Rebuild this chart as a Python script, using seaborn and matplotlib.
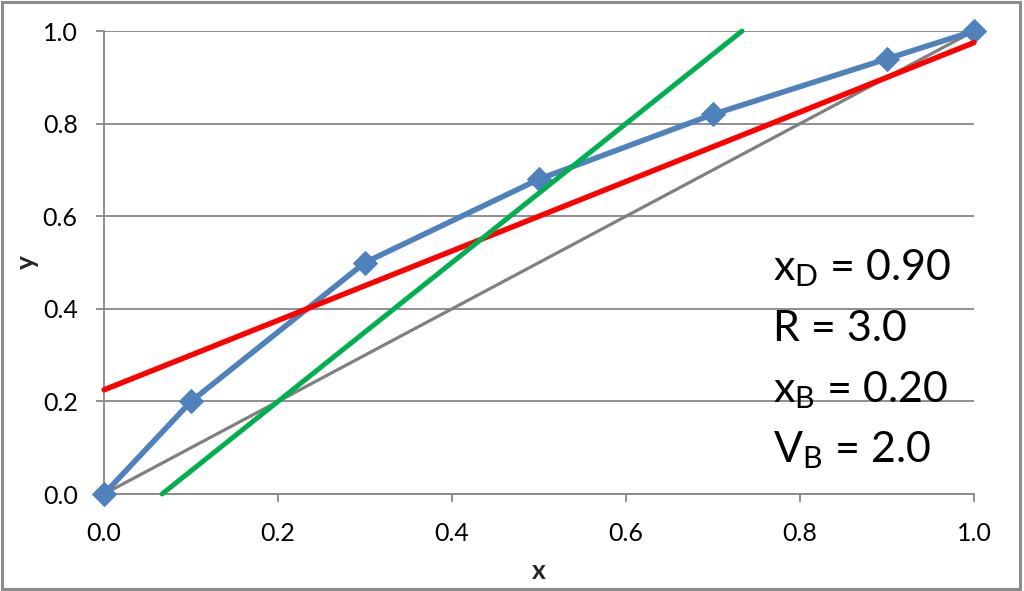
import matplotlib
matplotlib.use("Agg")
import matplotlib.pyplot as plt
import matplotlib.patches as patches
import seaborn as sns
import pandas as pd

# ---- data ----
eq_x = [0.0, 0.1, 0.3, 0.5, 0.7, 0.9, 1.0]
eq_y = [0.0, 0.2, 0.5, 0.68, 0.82, 0.94, 1.0]
diag_x = [0.0, 1.0]
diag_y = [0.0, 1.0]
rect_x = [0.0, 1.0]
rect_y = [0.225, 0.975]
strip_x = [0.0667, 0.7333]
strip_y = [0.0, 1.0]
x_ticks = [0.0, 0.2, 0.4, 0.6, 0.8, 1.0]
y_ticks = [0.0, 0.2, 0.4, 0.6, 0.8, 1.0]
tick_labels_x = ["0.0", "0.2", "0.4", "0.6", "0.8", "1.0"]
tick_labels_y = ["0.0", "0.2", "0.4", "0.6", "0.8", "1.0"]
annot_lines = [r"x$_\mathregular{D}$ = 0.90", "R = 3.0",
               r"x$_\mathregular{B}$ = 0.20", r"V$_\mathregular{B}$ = 2.0"]
annot_baselines = [0.462, 0.330, 0.199, 0.069]

sns.set_theme(style="white")
plt.rcParams['font.family'] = ['Lato', 'DejaVu Sans']

GRID = "#878787"
fig = plt.figure(figsize=(10.24, 5.91), dpi=100)
ax = fig.add_axes([0.1016, 0.1641, 0.8496, 0.7834])

sns.lineplot(x=diag_x, y=diag_y, ax=ax, color="#808080", lw=2.3, zorder=2)
sns.lineplot(x=eq_x, y=eq_y, ax=ax, color="#4F81BD", lw=4.0, marker="D",
             markersize=12, markeredgecolor="#4F81BD", zorder=3)
sns.lineplot(x=rect_x, y=rect_y, ax=ax, color="#FF0000", lw=3.9, zorder=4)
sns.lineplot(x=strip_x, y=strip_y, ax=ax, color="#00B050", lw=3.6, zorder=5)

ax.set_xlim(0, 1)
ax.set_ylim(0, 1)
ax.set_xticks(x_ticks)
ax.set_xticklabels(tick_labels_x)
ax.set_yticks(y_ticks)
ax.set_yticklabels(tick_labels_y)
ax.yaxis.grid(True, color=GRID, lw=1.3, zorder=0)
ax.xaxis.grid(False)
ax.set_axisbelow(True)
for s in ["top", "right"]:
    ax.spines[s].set_visible(False)
for s in ["left", "bottom"]:
    ax.spines[s].set_color(GRID)
    ax.spines[s].set_linewidth(1.3)
ax.tick_params(axis="x", which="major", direction="out", length=6, width=1.3,
               color=GRID, pad=14.5, labelsize=18, labelcolor="black", bottom=True)
ax.tick_params(axis="y", which="major", direction="out", length=6, width=1.3,
               color=GRID, pad=13, labelsize=18, labelcolor="black", left=True)
for c in ax.get_lines():
    c.set_clip_on(False)

for txt, yb in zip(annot_lines, annot_baselines):
    ax.text(0.769, yb, txt, fontsize=31, va="baseline", ha="left", color="black")

fig.text(0.526, 0.0203, "x", fontsize=19, fontweight="bold", ha="center", va="baseline")
fig.text(0.0264, 0.5567, "y", fontsize=19, fontweight="bold", ha="center", va="center",
         rotation=90)

fig.patches.append(patches.Rectangle((0.002, 0.0034), 0.994, 0.9932, transform=fig.transFigure,
                                     fill=False, edgecolor="#8c8c8c", lw=2.2))

fig.savefig("out.png", dpi=100)
